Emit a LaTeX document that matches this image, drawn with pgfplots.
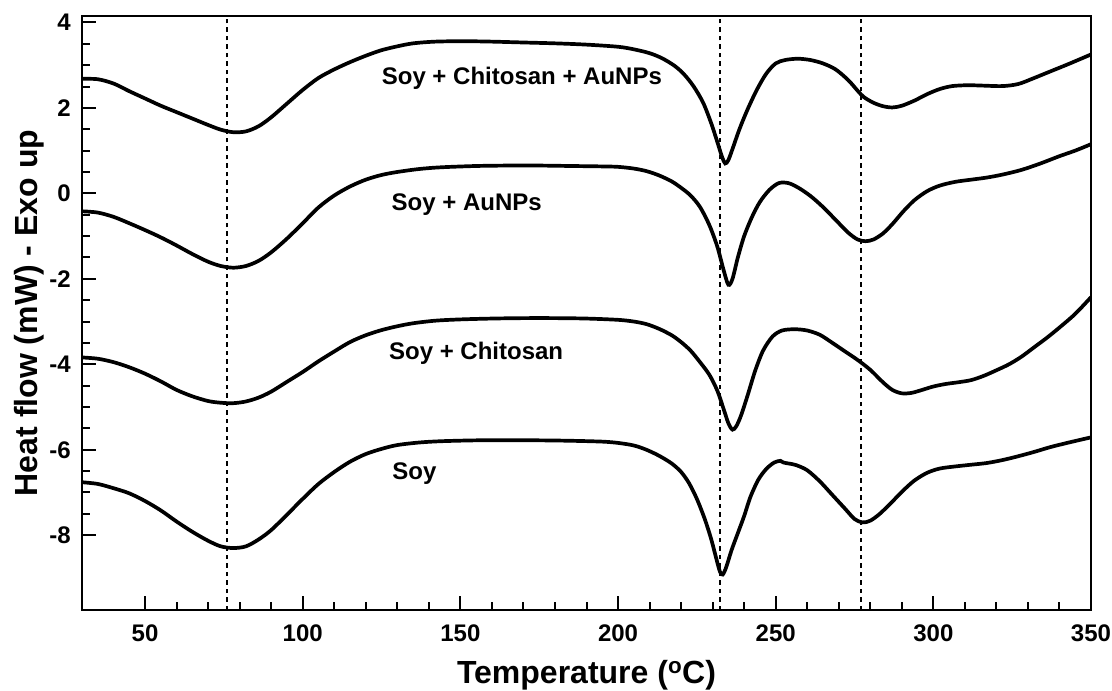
\documentclass[border=0pt]{standalone}
\usepackage{fontspec}
\setmainfont{Liberation Sans}
\usepackage{pgfplots}
\pgfplotsset{compat=1.18}

\begin{document}
\begin{tikzpicture}
\begin{axis}[
    width=1009pt, height=594pt, scale only axis,
    xmin=30, xmax=350, ymin=-9.75, ymax=4.15,
    xtick={50,100,...,350}, ytick={-8,-6,...,4},
    minor x tick num=4, minor y tick num=3,
    tick align=inside, xtick pos=bottom, ytick pos=left,
    major tick length=14pt, minor tick length=8pt,
    every tick/.style={black, line width=2pt},
    axis line style={line width=2.4pt},
    /pgf/number format/assume math mode=true,
    ticklabel style={font=\fontsize{24}{28}\selectfont\bfseries, inner sep=0pt},
    xticklabel style={yshift=-15pt},
    yticklabel style={xshift=-11pt},
    xlabel={Temperature (\textsuperscript{o}C)},
    ylabel={Heat flow (mW) - Exo up},
    every axis x label/.style={at={(axis description cs:0.5,0)}, anchor=base,
        yshift=-73pt, inner sep=0pt, font=\fontsize{32}{38}\selectfont\bfseries},
    every axis y label/.style={at={(axis description cs:-0.0525,0.5)}, anchor=center,
        rotate=90, inner sep=0pt, font=\fontsize{32}{38}\selectfont\bfseries},
    every axis plot/.append style={black},
    curve/.style={line width=3.7pt, smooth},
    vline/.style={line width=2.2pt, dash pattern=on 4.5pt off 4pt},
]
% vertical reference lines
\addplot[vline] coordinates {(76,-9.75) (76,4.15)};
\addplot[vline] coordinates {(232.4,-9.75) (232.4,4.15)};
\addplot[vline] coordinates {(277,-9.75) (277,4.15)};

% Soy + Chitosan + AuNPs
\addplot[curve] coordinates {
(30,2.68) (35,2.67) (40,2.57) (45,2.39) (50,2.22) (55,2.05) (60,1.90) (65,1.75)
(70,1.60) (74,1.49) (78,1.43) (82,1.45) (86,1.57) (90,1.78) (95,2.10) (100,2.42)
(105,2.70) (110,2.90) (115,3.07) (120,3.22) (125,3.35) (130,3.44) (135,3.51)
(142,3.55) (151,3.56) (160,3.55) (170,3.53) (180,3.51) (190,3.48) (200,3.43)
(205,3.37) (210,3.28) (214,3.16) (218,2.98) (221,2.78) (224,2.50) (227,2.12)
(229.5,1.65) (231.5,1.20) (233,0.85) (234,0.70) (235,0.78) (236.5,1.08)
(238.5,1.50) (241,1.95) (244,2.42) (247,2.80) (250,3.04) (253,3.12) (257,3.15)
(261,3.12) (265,3.04) (269,2.90) (273,2.65) (276,2.40) (278,2.25) (281,2.12)
(284,2.04) (287,2.01) (290,2.05) (294,2.17) (298,2.32) (302,2.44) (306,2.51)
(311,2.53) (316,2.52) (322,2.51) (327,2.56) (332,2.70) (337,2.85) (343,3.03)
(350,3.25)};

% Soy + AuNPs
\addplot[curve] coordinates {
(30,-0.42) (35,-0.45) (40,-0.55) (45,-0.70) (50,-0.86) (55,-1.03) (60,-1.22)
(65,-1.42) (70,-1.60) (74,-1.70) (78,-1.74) (82,-1.70) (86,-1.58) (90,-1.38)
(95,-1.06) (100,-0.70) (105,-0.33) (110,-0.05) (115,0.16) (120,0.32) (125,0.43)
(130,0.50) (137,0.57) (144,0.61) (155,0.64) (165,0.65) (175,0.65) (185,0.64)
(195,0.63) (200,0.62) (205,0.58) (209,0.52) (213,0.42) (217,0.28) (220,0.13)
(223,-0.05) (226,-0.32) (229,-0.75) (231.5,-1.25) (233.5,-1.80) (235,-2.14)
(236.3,-2.00) (238,-1.50) (240,-1.00) (242.5,-0.55) (245,-0.20) (248,0.08)
(251,0.24) (254,0.24) (257,0.14) (261,-0.06) (265,-0.32) (269,-0.62)
(273,-0.92) (276,-1.08) (278.5,-1.12) (281,-1.08) (284,-0.94) (287,-0.72)
(290.5,-0.42) (294,-0.16) (298,0.05) (302,0.18) (307,0.27) (312,0.32)
(317,0.37) (322,0.44) (328,0.55) (334,0.70) (340,0.87) (345,1.00) (350,1.15)};

% Soy + Chitosan
\addplot[curve] coordinates {
(30,-3.84) (35,-3.87) (40,-3.95) (45,-4.07) (50,-4.22) (55,-4.40) (60,-4.60)
(65,-4.75) (70,-4.86) (74,-4.90) (78,-4.91) (82,-4.87) (86,-4.78) (90,-4.64)
(95,-4.41) (100,-4.18) (105,-3.93) (110,-3.70) (115,-3.48) (120,-3.32)
(125,-3.20) (130,-3.11) (135,-3.04) (142,-2.98) (150,-2.95) (160,-2.93)
(170,-2.92) (180,-2.92) (190,-2.93) (200,-2.96) (205,-3.00) (209,-3.06)
(213,-3.17) (217,-3.32) (220,-3.48) (223,-3.68) (226,-3.95) (229,-4.25)
(231.5,-4.62) (233.5,-5.05) (235,-5.38) (236.3,-5.53) (237.5,-5.45)
(239,-5.20) (241,-4.75) (243.5,-4.15) (246,-3.68) (249,-3.35) (252,-3.21)
(256,-3.18) (260,-3.21) (264,-3.31) (268,-3.50) (272,-3.70) (276,-3.90)
(280,-4.13) (284,-4.42) (287,-4.60) (290,-4.68) (293,-4.67) (296,-4.61)
(300,-4.52) (304,-4.46) (308,-4.42) (312,-4.37) (316,-4.27) (320,-4.14)
(324,-4.00) (328,-3.82) (332,-3.60) (336,-3.38) (340,-3.14) (345,-2.82)
(350,-2.43)};

% Soy
\addplot[curve] coordinates {
(30,-6.76) (35,-6.80) (40,-6.90) (45,-7.02) (50,-7.20) (55,-7.42) (60,-7.68)
(65,-7.92) (70,-8.13) (74,-8.26) (78,-8.30) (82,-8.26) (86,-8.10) (90,-7.88)
(95,-7.52) (100,-7.15) (105,-6.80) (110,-6.52) (115,-6.28) (120,-6.10)
(125,-5.98) (130,-5.89) (137,-5.83) (144,-5.80) (155,-5.78) (165,-5.78)
(175,-5.78) (185,-5.79) (195,-5.81) (200,-5.84) (205,-5.90) (209,-6.00)
(213,-6.14) (217,-6.32) (220,-6.52) (222.5,-6.78) (225,-7.15) (227.5,-7.62)
(229.5,-8.08) (231,-8.50) (232.3,-8.85) (233.2,-8.92) (234.3,-8.75)
(236,-8.35) (238,-7.95) (240,-7.55) (242,-7.10) (244.5,-6.70) (247,-6.45)
(249.5,-6.30) (251.5,-6.26) (252.5,-6.30) (254,-6.32) (256.5,-6.36)
(260,-6.48) (264,-6.74) (268,-7.06) (272,-7.38) (275,-7.62) (277.5,-7.70)
(280,-7.66) (283,-7.50) (286.5,-7.25) (290.5,-6.95) (294,-6.72) (298,-6.54)
(302,-6.44) (307,-6.39) (312,-6.35) (317,-6.31) (322,-6.24) (327,-6.15)
(332,-6.05) (337,-5.94) (343,-5.83) (350,-5.71)};

\node[font=\fontsize{24}{28}\selectfont\bfseries] at (axis cs:169.5,2.69) {Soy + Chitosan + AuNPs};
\node[font=\fontsize{24}{28}\selectfont\bfseries] at (axis cs:152,-0.27) {Soy + AuNPs};
\node[font=\fontsize{24}{28}\selectfont\bfseries] at (axis cs:155,-3.75) {Soy + Chitosan};
\node[font=\fontsize{24}{28}\selectfont\bfseries] at (axis cs:135.4,-6.55) {Soy};
\end{axis}
\path ([xshift=-82pt,yshift=-80pt]current axis.south west)
      ([xshift=21pt,yshift=16pt]current axis.north east);
\end{tikzpicture}
\end{document}
